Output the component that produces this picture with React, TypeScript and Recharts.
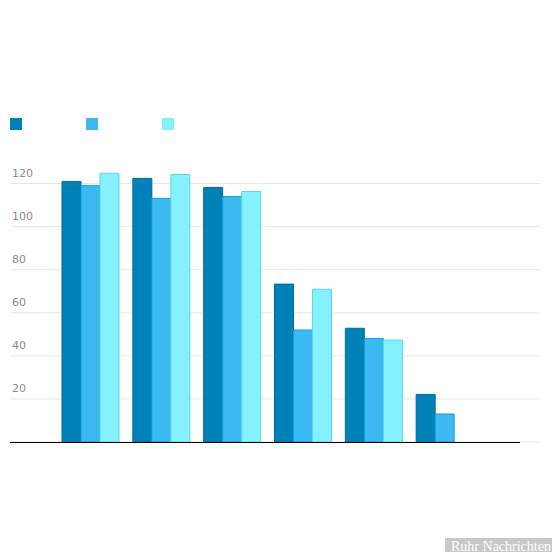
import React from "react";
import { BarChart, Bar, XAxis, YAxis, CartesianGrid } from "recharts";

const categories = ["1", "2", "3", "4", "5", "6"];
const seriesA = [121, 122.4, 118.2, 73.3, 52.8, 22.1];
const seriesB = [119, 113.1, 114, 52, 48.1, 13];
const seriesC = [124.8, 124.2, 116.3, 70.9, 47.3, null];
const yTicks = [0, 20, 40, 60, 80, 100, 120];

const series = [
  { key: "a", fill: "#0082b9", stroke: "#006a9b" },
  { key: "b", fill: "#3db9f1", stroke: "#0a9ed9" },
  { key: "c", fill: "#85f1fe", stroke: "#5cd5e7" },
];

const data = categories.map((name, i) => ({
  name,
  a: seriesA[i],
  b: seriesB[i],
  c: seriesC[i],
}));

function YTick(props: any) {
  const { y, payload } = props;
  if (payload.value === 0) return <g />;
  return (
    <text
      x={12}
      y={y - 7}
      fill="#8a8a8a"
      fontSize={11}
      fontFamily="DejaVu Sans, sans-serif"
      textAnchor="start"
    >
      {payload.value}
    </text>
  );
}

export default function App() {
  return (
    <div
      style={{
        position: "relative",
        width: 560,
        height: 560,
        margin: -8,
        background: "#fff",
        overflow: "hidden",
      }}
    >
      <div
        style={{ position: "absolute", top: 118, left: 10, display: "flex", gap: 64 }}
      >
        {series.map((s) => (
          <span
            key={s.key}
            style={{ display: "block", width: 12, height: 12, background: s.fill }}
          />
        ))}
      </div>
      <BarChart
        width={560}
        height={560}
        data={data}
        margin={{ top: 162, right: 20, bottom: 118, left: 10 }}
        barCategoryGap={7}
        barGap={0}
      >
        <CartesianGrid vertical={false} stroke="#e6e6e6" horizontalValues={yTicks} />
        <XAxis
          dataKey="name"
          padding={{ left: 44, right: 60 }}
          tick={false}
          tickLine={false}
          axisLine={false}
          height={0}
        />
        <YAxis
          domain={[0, 130]}
          ticks={yTicks}
          width={1}
          axisLine={false}
          tickLine={false}
          tick={YTick}
          interval={0}
          allowDataOverflow
        />
        {series.map((s) => (
          <Bar
            key={s.key}
            dataKey={s.key}
            fill={s.fill}
            stroke={s.stroke}
            strokeWidth={1}
            isAnimationActive={false}
          />
        ))}
      </BarChart>
      {/* x-axis line stops short of the plot's right edge */}
      <div
        style={{
          position: "absolute",
          left: 10,
          top: 441.5,
          width: 510,
          height: 1,
          background: "#000",
        }}
      />
      <div
        style={{
          position: "absolute",
          left: 445,
          top: 538,
          width: 112,
          height: 18,
          background: "#c8c8c8",
          color: "#fff",
          fontFamily: "'Liberation Serif', serif",
          fontSize: 14,
          lineHeight: "18px",
          textAlign: "center",
          whiteSpace: "nowrap",
        }}
      >
        Ruhr Nachrichten
      </div>
    </div>
  );
}
